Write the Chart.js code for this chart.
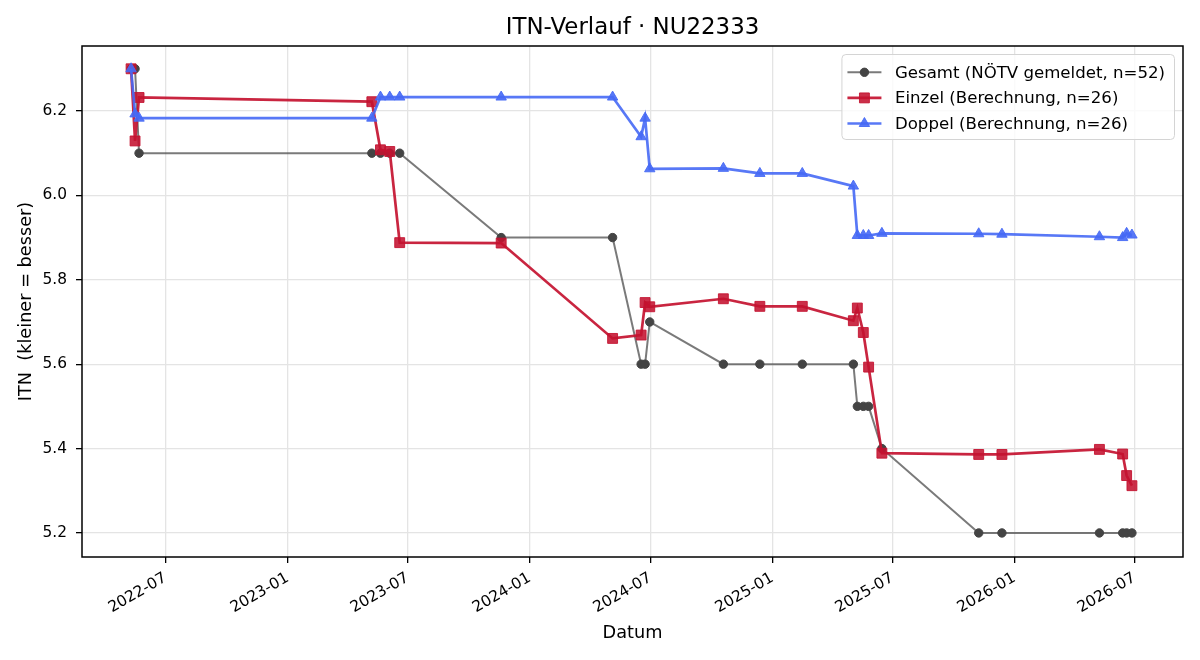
<!DOCTYPE html>
<html>
<head>
<meta charset="utf-8">
<title>ITN-Verlauf · NU22333</title>
<script src="https://cdn.jsdelivr.net/npm/chart.js@4.4.1/dist/chart.umd.min.js"></script>
<style>
  html, body { margin: 0; padding: 0; background: #fff; }
  #wrap { width: 1200px; height: 660px; }
</style>
</head>
<body>
<div id="wrap"><canvas id="itnChart" width="1200" height="660"></canvas></div>
<script>
// match dates (shared by all three series)
const matchDates = [
  '2022-05-10', '2022-05-16', '2022-05-22',
  '2023-05-08', '2023-05-21', '2023-06-04', '2023-06-19', '2023-11-19',
  '2024-05-05', '2024-06-17', '2024-06-23', '2024-06-30', '2024-10-19', '2024-12-13',
  '2025-02-15', '2025-05-03', '2025-05-09', '2025-05-18', '2025-05-26', '2025-06-15',
  '2025-11-08', '2025-12-13',
  '2026-05-09', '2026-06-13', '2026-06-19', '2026-06-27'
];

const gesamtValues = [
  6.3, 6.3, 6.1,
  6.1, 6.1, 6.1, 6.1, 5.9,
  5.9, 5.6, 5.6, 5.7, 5.6, 5.6,
  5.6, 5.6, 5.5, 5.5, 5.5, 5.4,
  5.2, 5.2,
  5.2, 5.2, 5.2, 5.2
];

const einzelValues = [
  6.3, 6.129, 6.232,
  6.222, 6.108, 6.104, 5.888, 5.887,
  5.661, 5.669, 5.746, 5.736, 5.755, 5.737,
  5.737, 5.703, 5.733, 5.675, 5.593, 5.389,
  5.386, 5.386,
  5.398, 5.387, 5.336, 5.312
];

const doppelValues = [
  6.3, 6.193, 6.183,
  6.183, 6.233, 6.233, 6.233, 6.233,
  6.233, 6.139, 6.183, 6.063, 6.064, 6.052,
  6.052, 6.022, 5.905, 5.905, 5.905, 5.91,
  5.909, 5.908,
  5.902, 5.9, 5.91, 5.906
];

const seriesLabels = [
  'Gesamt (NÖTV gemeldet, n=52)',
  'Einzel (Berechnung, n=26)',
  'Doppel (Berechnung, n=26)'
];

const xTickLabels = ['2022-07', '2023-01', '2023-07', '2024-01', '2024-07', '2025-01', '2025-07', '2026-01', '2026-07'];
const yTickValues = [5.2, 5.4, 5.6, 5.8, 6.0, 6.2];

const FONT = 'DejaVu Sans';
const toTime = d => Date.parse(d + 'T00:00:00Z');
const toPoints = values => matchDates.map((d, i) => ({ x: toTime(d), y: values[i] }));

// title, frame and an in-plot legend (matplotlib style)
const framePlugin = {
  id: 'framePlugin',
  afterDatasetsDraw(chart) {
    const { ctx, chartArea: a } = chart;
    ctx.save();

    ctx.fillStyle = '#000';
    ctx.font = `22.9px "${FONT}"`;
    ctx.textAlign = 'center';
    ctx.textBaseline = 'middle';
    ctx.fillText('ITN-Verlauf · NU22333', (a.left + a.right) / 2, 28);

    ctx.strokeStyle = '#000';
    ctx.lineWidth = 1.5;
    ctx.strokeRect(a.left, a.top, a.right - a.left, a.bottom - a.top);

    // legend
    const datasets = chart.data.datasets;
    ctx.font = `16.6px "${FONT}"`;
    const textW = Math.max(...seriesLabels.map(t => ctx.measureText(t).width));
    const boxW = 6 + 34 + 13.5 + textW + 9;
    const boxH = 85;
    const boxR = a.right - 9;
    const boxL = boxR - boxW;
    const boxT = a.top + 8;

    ctx.beginPath();
    ctx.roundRect(boxL + 0.5, boxT + 0.5, boxW, boxH, 4);
    ctx.fillStyle = 'rgba(255,255,255,0.8)';
    ctx.fill();
    ctx.lineWidth = 1;
    ctx.strokeStyle = '#d4d4d4';
    ctx.stroke();

    seriesLabels.forEach((label, i) => {
      const ds = datasets[i];
      const y = boxT + 18.3 + i * 25.6;
      const x0 = boxL + 6;
      ctx.strokeStyle = ds.borderColor;
      ctx.lineWidth = ds.borderWidth;
      ctx.beginPath();
      ctx.moveTo(x0, y);
      ctx.lineTo(x0 + 34, y);
      ctx.stroke();
      ctx.fillStyle = ds.pointBackgroundColor;
      ctx.strokeStyle = ds.pointBorderColor;
      ctx.lineWidth = 1;
      Chart.helpers.drawPoint(ctx, { pointStyle: ds.pointStyle, radius: ds.pointRadius, rotation: 0, borderWidth: 1 }, x0 + 17, y);
      ctx.fillStyle = '#000';
      ctx.textAlign = 'left';
      ctx.textBaseline = 'middle';
      ctx.fillText(label, x0 + 34 + 13.5, y + 1);
    });

    ctx.restore();
  }
};

function renderChart() {
  const canvas = document.getElementById('itnChart');
  if (!canvas || typeof Chart === 'undefined') return;

  new Chart(canvas, {
    type: 'line',
    data: {
      datasets: [
        {
          label: seriesLabels[0],
          data: toPoints(gesamtValues),
          borderColor: 'rgba(70,70,70,0.72)',
          borderWidth: 2,
          pointStyle: 'circle',
          pointRadius: 4.2,
          pointBackgroundColor: '#444444',
          pointBorderColor: '#444444',
          pointBorderWidth: 1,
          order: 2
        },
        {
          label: seriesLabels[1],
          data: toPoints(einzelValues),
          borderColor: 'rgba(196,18,48,0.92)',
          borderWidth: 2.7,
          pointStyle: 'rect',
          pointRadius: 7,
          pointBackgroundColor: 'rgba(196,18,48,0.88)',
          pointBorderColor: 'rgba(196,18,48,0.88)',
          pointBorderWidth: 1,
          order: 1
        },
        {
          label: seriesLabels[2],
          data: toPoints(doppelValues),
          borderColor: 'rgba(70,105,245,0.9)',
          borderWidth: 2.7,
          pointStyle: 'triangle',
          pointRadius: 6,
          pointBackgroundColor: 'rgba(70,105,245,0.9)',
          pointBorderColor: 'rgba(70,105,245,0.9)',
          pointBorderWidth: 1,
          order: 0
        }
      ]
    },
    options: {
      responsive: false,
      animation: false,
      devicePixelRatio: 1,
      layout: { padding: { top: 46, right: 17, bottom: 0, left: 0 } },
      elements: { line: { tension: 0 } },
      scales: {
        x: {
          type: 'linear',
          min: toTime('2022-02-25'),
          max: toTime('2026-09-12'),
          afterBuildTicks: scale => {
            scale.ticks = xTickLabels.map(l => ({ value: toTime(l + '-01') }));
          },
          afterFit: scale => { scale.height = 103; },
          border: { display: false },
          grid: { color: '#e4e4e4', lineWidth: 1.3, tickColor: '#000', tickLength: 6, drawTicks: true },
          ticks: {
            autoSkip: false,
            minRotation: 30,
            maxRotation: 30,
            padding: 6,
            color: '#000',
            font: { family: FONT, size: 15.4 },
            callback: (v, i) => xTickLabels[i]
          },
          title: {
            display: true,
            text: 'Datum',
            color: '#000',
            font: { family: FONT, size: 17.7 },
            padding: { top: 0, bottom: 16.4 }
          }
        },
        y: {
          type: 'linear',
          min: 5.143,
          max: 6.354,
          afterBuildTicks: scale => {
            scale.ticks = yTickValues.map(v => ({ value: v }));
          },
          afterFit: scale => { scale.width = 82; },
          border: { display: false },
          grid: { color: '#e4e4e4', lineWidth: 1.3, tickColor: '#000', tickLength: 6, drawTicks: true },
          ticks: {
            padding: 9,
            color: '#000',
            font: { family: FONT, size: 15.4 },
            callback: v => Number(v).toFixed(1)
          },
          title: {
            display: true,
            text: 'ITN  (kleiner = besser)',
            color: '#000',
            font: { family: FONT, size: 17.7 },
            padding: { top: 15.4, bottom: 0 }
          }
        }
      },
      plugins: {
        legend: { display: false },
        title: { display: false },
        tooltip: { enabled: false }
      }
    },
    plugins: [framePlugin]
  });
}

document.addEventListener('DOMContentLoaded', renderChart);
</script>
</body>
</html>
